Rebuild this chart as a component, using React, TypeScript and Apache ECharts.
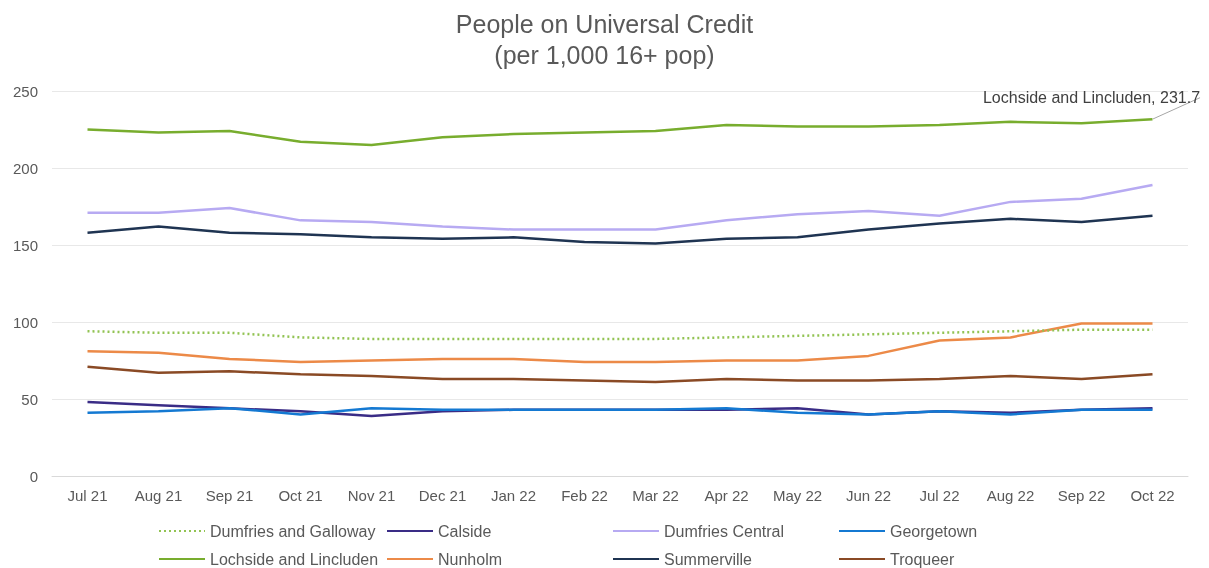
import React, { useEffect, useRef } from "react";
import * as echarts from "echarts";

const months = ["Jul 21", "Aug 21", "Sep 21", "Oct 21", "Nov 21", "Dec 21", "Jan 22", "Feb 22", "Mar 22", "Apr 22", "May 22", "Jun 22", "Jul 22", "Aug 22", "Sep 22", "Oct 22"];

const dumfriesGalloway = [94, 93, 93, 90, 89, 89, 89, 89, 89, 90, 91, 92, 93, 94, 95, 95];
const calside = [48, 46, 44, 42, 39, 42, 43, 43, 43, 43, 44, 40, 42, 41, 43, 44];
const dumfriesCentral = [171, 171, 174, 166, 165, 162, 160, 160, 160, 166, 170, 172, 169, 178, 180, 189];
const georgetown = [41, 42, 44, 40, 44, 43, 43, 43, 43, 44, 41, 40, 42, 40, 43, 43];
const lochside = [225, 223, 224, 217, 215, 220, 222, 223, 224, 228, 227, 227, 228, 230, 229, 231.7];
const nunholm = [81, 80, 76, 74, 75, 76, 76, 74, 74, 75, 75, 78, 88, 90, 99, 99];
const summerville = [158, 162, 158, 157, 155, 154, 155, 152, 151, 154, 155, 160, 164, 167, 165, 169];
const troqueer = [71, 67, 68, 66, 65, 63, 63, 62, 61, 63, 62, 62, 63, 65, 63, 66];

const yTicks = [0, 50, 100, 150, 200, 250];

const seriesDefs = [
  { name: "Dumfries and Galloway", data: dumfriesGalloway, color: "#92C353", dotted: true },
  { name: "Calside", data: calside, color: "#3A2C86" },
  { name: "Dumfries Central", data: dumfriesCentral, color: "#B7AAF2" },
  { name: "Georgetown", data: georgetown, color: "#1479D2" },
  { name: "Lochside and Lincluden", data: lochside, color: "#78AD2E" },
  { name: "Nunholm", data: nunholm, color: "#EC8A48" },
  { name: "Summerville", data: summerville, color: "#1F3452" },
  { name: "Troqueer", data: troqueer, color: "#8A4A25" },
];

const legendPos = [
  [153, 518], [381, 518], [607, 518], [833, 518],
  [153, 546], [381, 546], [607, 546], [833, 546],
];

export default function App() {
  const ref = useRef<HTMLDivElement>(null);
  useEffect(() => {
    if (!ref.current) return;
    const chart = echarts.init(ref.current, null, { renderer: "svg" });
    const font = "'Liberation Sans', Arial, sans-serif";
    const series = seriesDefs.map((s) => {
      const isLoch = s.name === "Lochside and Lincluden";
      const lastIdx = s.data.length - 1;
      const data = s.data.map((v, i) => {
        if (isLoch && i === lastIdx) {
          return {
            value: v,
            symbol: "circle",
            symbolSize: 1,
            itemStyle: { color: "rgba(0,0,0,0)", borderWidth: 0 },
            label: {
              show: true,
              formatter: s.name + ", {c}",
              position: "top",
              color: "#404040",
              fontSize: 16,
              fontFamily: font,
            },
            labelLine: { show: true, lineStyle: { color: "#A6A6A6", width: 1 } },
          };
        }
        return v;
      });
      return {
        name: s.name,
        type: "line",
        data,
        symbol: "none",
        showSymbol: true,
        color: s.color,
        lineStyle: {
          color: s.color,
          width: 2.5,
          type: s.dotted ? [2, 3] : "solid",
        },
        labelLayout: isLoch
          ? (p: any) => (p.dataIndex === lastIdx ? { dx: -61, dy: -8 } : {})
          : undefined,
        labelLine: isLoch ? { show: true, lineStyle: { color: "#A6A6A6", width: 1 } } : undefined,
        z: s.dotted ? 3 : 2,
      };
    });
    const legends = seriesDefs.map((s, i) => ({
      data: [s.name],
      left: legendPos[i][0],
      top: legendPos[i][1],
      itemWidth: 46,
      itemHeight: 10,
      itemGap: 4,
      itemStyle: { opacity: 0 },
      textStyle: { color: "#595959", fontSize: 16, fontFamily: font },
    }));
    chart.setOption({
      animation: false,
      title: {
        text: "People on Universal Credit\n(per 1,000 16+ pop)",
        left: "center",
        top: 3,
        textStyle: { color: "#595959", fontSize: 25, fontWeight: "normal", fontFamily: font, lineHeight: 31 },
      },
      grid: { left: 52, right: 21, top: 91, bottom: 92, containLabel: false },
      legend: legends,
      xAxis: {
        type: "category",
        data: months,
        boundaryGap: true,
        axisLine: { lineStyle: { color: "#D9D9D9" } },
        axisTick: { show: false },
        axisLabel: { color: "#595959", fontSize: 15, fontFamily: font, margin: 12 },
      },
      yAxis: {
        type: "value",
        min: yTicks[0],
        max: yTicks[yTicks.length - 1],
        interval: 50,
        axisLine: { show: false },
        axisTick: { show: false },
        splitLine: { lineStyle: { color: "#E8E8E8" } },
        axisLabel: { color: "#595959", fontSize: 15, fontFamily: font, margin: 14 },
      },
      series,
    });
    return () => chart.dispose();
  }, []);
  return <div ref={ref} style={{ position: "fixed", left: 0, top: 0, width: 1209, height: 568 }} />;
}
